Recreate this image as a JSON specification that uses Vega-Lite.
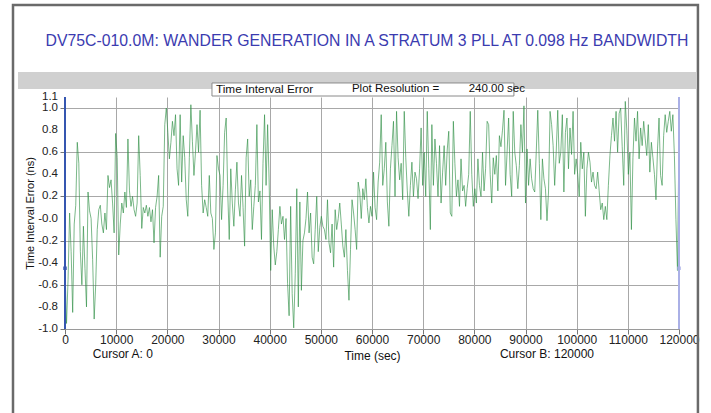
{
  "$schema": "https://vega.github.io/schema/vega-lite/v6.json",
  "width": 614,
  "height": 232,
  "autosize": {"type": "none"},
  "padding": {"left": 65, "top": 97, "right": 32, "bottom": 84},
  "background": "white",
  "title": {
    "text": "DV75C-010.0M:  WANDER GENERATION IN A STRATUM 3 PLL AT 0.098 Hz BANDWIDTH",
    "font": "Liberation Sans",
    "fontSize": 15.8,
    "fontWeight": "normal",
    "color": "#3b3bb0",
    "anchor": "middle",
    "dy": 50,
    "dx": -5
  },
  "config": {
    "view": {"stroke": null},
    "axis": {"labelFont": "Liberation Sans", "titleFont": "Liberation Sans", "labelColor": "#222", "titleColor": "#111", "labelOverlap": false}
  },
  "datasets": {
    "tie": [
      {"t":0,"v":-0.45},{"t":300,"v":-0.95},{"t":600,"v":-0.55},{"t":900,"v":0.05},{"t":1200,"v":-0.3},{"t":1500,"v":-0.85},{"t":1800,"v":-0.05},{"t":2100,"v":0.12},{"t":2400,"v":0.69},{"t":2700,"v":0.5},
      {"t":3000,"v":-0.3},{"t":3300,"v":-0.6},{"t":3600,"v":-0.07},{"t":3900,"v":-0.45},{"t":4200,"v":-0.8},{"t":4500,"v":0.24},{"t":4800,"v":0.07},{"t":5100,"v":0.0},{"t":5400,"v":-0.37},{"t":5700,"v":-0.91},
      {"t":6000,"v":-0.6},{"t":6300,"v":-0.1},{"t":6600,"v":0.08},{"t":6900,"v":0.12},{"t":7200,"v":-0.05},{"t":7500,"v":-0.13},{"t":7800,"v":0.05},{"t":8100,"v":-0.1},{"t":8400,"v":0.39},{"t":8700,"v":0.28},
      {"t":9000,"v":0.35},{"t":9300,"v":0.14},{"t":9600,"v":-0.13},{"t":9900,"v":0.77},{"t":10200,"v":0.55},{"t":10500,"v":-0.33},{"t":10800,"v":-0.05},{"t":11100,"v":0.14},{"t":11400,"v":0.05},{"t":11700,"v":0.24},
      {"t":12000,"v":0.1},{"t":12300,"v":0.72},{"t":12600,"v":0.25},{"t":12900,"v":0.11},{"t":13200,"v":0.2},{"t":13500,"v":0.08},{"t":13800,"v":0.02},{"t":14100,"v":0.14},{"t":14400,"v":0.75},{"t":14700,"v":0.39},
      {"t":15000,"v":-0.09},{"t":15300,"v":0.1},{"t":15600,"v":0.05},{"t":15900,"v":0.12},{"t":16200,"v":0.02},{"t":16500,"v":0.1},{"t":16800,"v":-0.03},{"t":17100,"v":0.08},{"t":17400,"v":-0.22},{"t":17700,"v":0.1},
      {"t":18000,"v":0.2},{"t":18300,"v":0.39},{"t":18600,"v":-0.35},{"t":18900,"v":0.02},{"t":19200,"v":0.11},{"t":19500,"v":0.85},{"t":19800,"v":1.0},
      {"t":20100,"v":0.78},{"t":20400,"v":0.54},{"t":20700,"v":0.69},{"t":21000,"v":0.88},{"t":21300,"v":0.75},{"t":21600,"v":0.94},{"t":21900,"v":0.45},{"t":22200,"v":0.3},{"t":22500,"v":0.94},{"t":22800,"v":0.33},
      {"t":23100,"v":0.75},{"t":23400,"v":0.55},{"t":23700,"v":0.17},{"t":24000,"v":0.02},{"t":24300,"v":0.55},{"t":24600,"v":1.03},{"t":24900,"v":0.7},{"t":25200,"v":0.39},{"t":25500,"v":0.6},{"t":25800,"v":0.85},
      {"t":26100,"v":0.6},{"t":26400,"v":0.98},{"t":26700,"v":0.3},{"t":27000,"v":0.05},{"t":27300,"v":0.17},{"t":27600,"v":0.1},{"t":27900,"v":0.02},{"t":28200,"v":0.39},{"t":28500,"v":0.05},{"t":28800,"v":0.0},
      {"t":29100,"v":-0.28},{"t":29400,"v":-0.13},{"t":29700,"v":0.57},{"t":30000,"v":0.45},{"t":30300,"v":0.39},{"t":30600,"v":-0.01},{"t":30900,"v":0.3},{"t":31200,"v":0.78},{"t":31500,"v":0.91},{"t":31800,"v":0.24},
      {"t":32100,"v":-0.19},{"t":32400,"v":0.45},{"t":32700,"v":0.14},{"t":33000,"v":-0.07},{"t":33300,"v":0.26},{"t":33600,"v":0.51},{"t":33900,"v":0.14},{"t":34200,"v":0.02},{"t":34500,"v":0.39},{"t":34800,"v":0.1},
      {"t":35100,"v":-0.25},{"t":35400,"v":0.55},{"t":35700,"v":0.72},{"t":36000,"v":0.2},{"t":36300,"v":0.35},{"t":36600,"v":-0.1},{"t":36900,"v":0.11},{"t":37200,"v":0.3},{"t":37500,"v":0.85},{"t":37800,"v":0.15},
      {"t":38100,"v":0.25},{"t":38400,"v":-0.19},{"t":38700,"v":0.5},{"t":39000,"v":0.94},{"t":39300,"v":0.3},{"t":39600,"v":0.85},{"t":39900,"v":0.33},
      {"t":40200,"v":-0.47},{"t":40500,"v":0.08},{"t":40800,"v":-0.25},{"t":41100,"v":-0.42},{"t":41400,"v":-0.3},{"t":41700,"v":-0.1},{"t":42000,"v":0.11},{"t":42300,"v":-0.05},{"t":42600,"v":0.02},{"t":42900,"v":-0.19},
      {"t":43200,"v":0.0},{"t":43500,"v":-0.59},{"t":43800,"v":-0.88},{"t":44100,"v":0.11},{"t":44400,"v":-0.68},{"t":44700,"v":-0.99},{"t":45000,"v":-0.5},{"t":45300,"v":0.27},{"t":45600,"v":-0.8},{"t":45900,"v":0.15},
      {"t":46200,"v":-0.65},{"t":46500,"v":-0.2},{"t":46800,"v":-0.13},{"t":47100,"v":0.0},{"t":47400,"v":0.24},{"t":47700,"v":-0.13},{"t":48000,"v":0.05},{"t":48300,"v":-0.35},{"t":48600,"v":-0.41},{"t":48900,"v":-0.1},
      {"t":49200,"v":0.2},{"t":49500,"v":-0.3},{"t":49800,"v":-0.08},{"t":50100,"v":0.02},{"t":50400,"v":-0.07},{"t":50700,"v":-0.1},{"t":51000,"v":-0.19},{"t":51300,"v":0.17},{"t":51600,"v":-0.22},{"t":51900,"v":-0.31},
      {"t":52200,"v":-0.05},{"t":52500,"v":-0.44},{"t":52800,"v":0.08},{"t":53100,"v":-0.1},{"t":53400,"v":0.0},{"t":53700,"v":0.14},{"t":54000,"v":-0.05},{"t":54300,"v":-0.25},{"t":54600,"v":-0.35},{"t":54900,"v":-0.1},
      {"t":55200,"v":-0.47},{"t":55500,"v":-0.74},{"t":55800,"v":-0.28},{"t":56100,"v":0.17},{"t":56400,"v":0.05},{"t":56700,"v":-0.1},{"t":57000,"v":-0.28},{"t":57300,"v":0.33},{"t":57600,"v":0.24},{"t":57900,"v":0.0},
      {"t":58200,"v":0.27},{"t":58500,"v":0.17},{"t":58800,"v":0.36},{"t":59100,"v":0.1},{"t":59400,"v":-0.04},{"t":59700,"v":0.11},
      {"t":60000,"v":0.02},{"t":60300,"v":0.42},{"t":60600,"v":0.1},{"t":60900,"v":-0.01},{"t":61200,"v":0.33},{"t":61500,"v":0.51},{"t":61800,"v":0.94},{"t":62100,"v":0.3},{"t":62400,"v":0.45},{"t":62700,"v":0.69},
      {"t":63000,"v":0.15},{"t":63300,"v":-0.07},{"t":63600,"v":0.45},{"t":63900,"v":0.66},{"t":64200,"v":0.88},{"t":64500,"v":0.2},{"t":64800,"v":0.97},{"t":65100,"v":0.55},{"t":65400,"v":0.35},{"t":65700,"v":0.5},
      {"t":66000,"v":0.17},{"t":66300,"v":0.97},{"t":66600,"v":0.55},{"t":66900,"v":0.25},{"t":67200,"v":0.02},{"t":67500,"v":0.3},{"t":67800,"v":0.51},{"t":68100,"v":0.2},{"t":68400,"v":0.42},{"t":68700,"v":0.36},
      {"t":69000,"v":0.18},{"t":69300,"v":0.45},{"t":69600,"v":0.82},{"t":69900,"v":0.3},{"t":70200,"v":0.6},{"t":70500,"v":0.2},{"t":70800,"v":0.97},{"t":71100,"v":0.45},{"t":71400,"v":-0.1},{"t":71700,"v":0.85},
      {"t":72000,"v":0.3},{"t":72300,"v":0.72},{"t":72600,"v":0.5},{"t":72900,"v":0.2},{"t":73200,"v":0.66},{"t":73500,"v":0.14},{"t":73800,"v":0.42},{"t":74100,"v":0.66},{"t":74400,"v":0.3},{"t":74700,"v":0.62},
      {"t":75000,"v":0.79},{"t":75300,"v":0.05},{"t":75600,"v":0.02},{"t":75900,"v":0.88},{"t":76200,"v":0.5},{"t":76500,"v":0.2},{"t":76800,"v":0.35},{"t":77100,"v":0.11},{"t":77400,"v":0.54},{"t":77700,"v":0.25},
      {"t":78000,"v":0.3},{"t":78300,"v":0.11},{"t":78600,"v":0.27},{"t":78900,"v":0.4},{"t":79200,"v":0.97},{"t":79500,"v":0.4},{"t":79800,"v":0.11},
      {"t":80100,"v":0.27},{"t":80400,"v":0.14},{"t":80700,"v":0.54},{"t":81000,"v":0.3},{"t":81300,"v":0.2},{"t":81600,"v":0.6},{"t":81900,"v":0.25},{"t":82200,"v":0.45},{"t":82500,"v":0.88},{"t":82800,"v":0.85},
      {"t":83100,"v":0.4},{"t":83400,"v":0.14},{"t":83700,"v":0.55},{"t":84000,"v":0.4},{"t":84300,"v":0.57},{"t":84600,"v":0.25},{"t":84900,"v":0.75},{"t":85200,"v":0.65},{"t":85500,"v":0.8},{"t":85800,"v":0.98},
      {"t":86100,"v":0.3},{"t":86400,"v":0.6},{"t":86700,"v":0.91},{"t":87000,"v":0.4},{"t":87300,"v":0.2},{"t":87600,"v":0.97},{"t":87900,"v":0.6},{"t":88200,"v":0.48},{"t":88500,"v":0.27},{"t":88800,"v":0.48},
      {"t":89100,"v":0.85},{"t":89400,"v":0.6},{"t":89700,"v":1.02},{"t":90000,"v":0.14},{"t":90300,"v":0.63},{"t":90600,"v":0.3},{"t":90900,"v":0.54},{"t":91200,"v":0.36},{"t":91500,"v":0.27},{"t":91800,"v":0.24},
      {"t":92100,"v":0.6},{"t":92400,"v":0.98},{"t":92700,"v":0.5},{"t":93000,"v":-0.01},{"t":93300,"v":0.54},{"t":93600,"v":0.36},{"t":93900,"v":0.27},{"t":94200,"v":-0.02},{"t":94500,"v":0.24},{"t":94800,"v":0.97},
      {"t":95100,"v":0.85},{"t":95400,"v":0.66},{"t":95700,"v":0.3},{"t":96000,"v":0.6},{"t":96300,"v":0.98},{"t":96600,"v":0.5},{"t":96900,"v":0.6},{"t":97200,"v":0.94},{"t":97500,"v":0.24},{"t":97800,"v":0.78},
      {"t":98100,"v":0.91},{"t":98400,"v":0.45},{"t":98700,"v":0.82},{"t":99000,"v":0.58},{"t":99300,"v":0.97},{"t":99600,"v":0.4},{"t":99900,"v":0.54},
      {"t":100200,"v":0.4},{"t":100500,"v":0.2},{"t":100800,"v":0.69},{"t":101100,"v":0.45},{"t":101400,"v":0.6},{"t":101700,"v":0.02},{"t":102000,"v":0.45},{"t":102300,"v":0.6},{"t":102600,"v":0.51},{"t":102900,"v":0.33},
      {"t":103200,"v":0.42},{"t":103500,"v":0.3},{"t":103800,"v":0.27},{"t":104100,"v":0.42},{"t":104400,"v":0.25},{"t":104700,"v":0.08},{"t":105000,"v":0.14},{"t":105300,"v":-0.01},{"t":105600,"v":0.11},{"t":105900,"v":-0.01},
      {"t":106200,"v":0.3},{"t":106500,"v":0.57},{"t":106800,"v":0.75},{"t":107100,"v":0.91},{"t":107400,"v":0.7},{"t":107700,"v":0.97},{"t":108000,"v":0.6},{"t":108300,"v":0.95},{"t":108600,"v":1.0},{"t":108900,"v":0.65},
      {"t":109200,"v":0.3},{"t":109500,"v":1.06},{"t":109800,"v":0.8},{"t":110100,"v":0.4},{"t":110400,"v":0.6},{"t":110700,"v":-0.1},{"t":111000,"v":0.55},{"t":111300,"v":0.91},{"t":111600,"v":0.7},{"t":111900,"v":0.97},
      {"t":112200,"v":0.54},{"t":112500,"v":0.82},{"t":112800,"v":0.66},{"t":113100,"v":0.88},{"t":113400,"v":0.72},{"t":113700,"v":0.57},{"t":114000,"v":0.85},{"t":114300,"v":0.42},{"t":114600,"v":0.69},{"t":114900,"v":0.55},
      {"t":115200,"v":0.4},{"t":115500,"v":0.17},{"t":115800,"v":0.63},{"t":116100,"v":0.91},{"t":116400,"v":0.39},{"t":116700,"v":0.3},{"t":117000,"v":0.75},{"t":117300,"v":0.94},{"t":117600,"v":0.78},{"t":117900,"v":0.88},
      {"t":118200,"v":0.97},{"t":118500,"v":0.79},{"t":118800,"v":0.94},{"t":119100,"v":0.57},{"t":119400,"v":-0.01},{"t":119700,"v":-0.47},{"t":120000,"v":0.75}
    ],
    "cursors": [
      {"cursor": "A", "t": 0, "v": -0.45},
      {"cursor": "B", "t": 120000, "v": -0.45}
    ],
    "yticks": [
      {"tick": -1.0, "label": "-1.0"},
      {"tick": -0.8, "label": "-0.8"},
      {"tick": -0.6, "label": "-0.6"},
      {"tick": -0.4, "label": "-0.4"},
      {"tick": -0.2, "label": "-0.2"},
      {"tick": 0.0, "label": "-0.0"},
      {"tick": 0.2, "label": "0.2"},
      {"tick": 0.4, "label": "0.4"},
      {"tick": 0.6, "label": "0.6"},
      {"tick": 0.8, "label": "0.8"},
      {"tick": 1.0, "label": "1.0"},
      {"tick": 1.1, "label": "1.1"}
    ]
  },
  "layer": [
    {
      "data": {"name": "tie"},
      "mark": {"type": "line", "stroke": "#2f8f45", "strokeWidth": 0.8, "opacity": 0.8},
      "encoding": {
        "x": {
          "field": "t", "type": "quantitative",
          "scale": {"domain": [0, 120000], "nice": false, "zero": false},
          "axis": {
            "title": "Time (sec)", "values": [0,10000,20000,30000,40000,50000,60000,70000,80000,90000,100000,110000,120000],
            "format": "d", "labelFontSize": 12, "labelPadding": 0, "tickSize": 5, "tickColor": "#777",
            "domain": true, "domainColor": "#9a9a9a", "grid": true, "gridColor": "#a8a8a8", "gridWidth": 1,
            "titleFontSize": 12, "titleFontWeight": "normal", "titlePadding": 5, "labelFlush": false, "labelOverlap": false
          }
        },
        "y": {
          "field": "v", "type": "quantitative",
          "scale": {"domain": [-1.0, 1.1], "nice": false, "zero": false},
          "axis": {
            "title": "Time Interval Error (ns)", "values": [-1.0,-0.8,-0.6,-0.4,-0.2,0,0.2,0.4,0.6,0.8,1.0,1.1],
            "labels": false, "tickSize": 5, "tickColor": "#777",
            "domain": false, "grid": true, "gridColor": "#a8a8a8", "gridWidth": 1,
            "titleFontSize": 11, "titleFontWeight": "normal", "titlePadding": 24
          }
        }
      }
    },
    {
      "data": {"name": "yticks"},
      "mark": {"type": "text", "align": "right", "baseline": "middle", "font": "Liberation Sans", "fontSize": 11.5, "color": "#222", "clip": false},
      "encoding": {
        "x": {"datum": -1370, "type": "quantitative"},
        "y": {"field": "tick", "type": "quantitative"},
        "text": {"field": "label", "type": "nominal"}
      }
    },
    {
      "data": {"values": [{}]},
      "mark": {"type": "rect", "fill": "transparent", "stroke": "#6a6a6a", "strokeWidth": 2.5, "clip": false},
      "encoding": {
        "x": {"datum": -10163, "type": "quantitative"},
        "x2": {"datum": 123700},
        "y": {"datum": 1.933, "type": "quantitative"},
        "y2": {"datum": -1.9}
      }
    },
    {
      "data": {"values": [{}]},
      "mark": {"type": "rect", "fill": "#d0d0d0", "clip": false},
      "encoding": {
        "x": {"datum": -9184, "type": "quantitative"},
        "x2": {"datum": 123493},
        "y": {"datum": 1.326, "type": "quantitative"},
        "y2": {"datum": 1.172}
      }
    },
    {
      "data": {"values": [{}]},
      "mark": {"type": "rect", "fill": "white", "stroke": "#8a8a8a", "strokeWidth": 1, "clip": false},
      "encoding": {
        "x": {"datum": 28724, "type": "quantitative"},
        "x2": {"datum": 87735},
        "y": {"datum": 1.227, "type": "quantitative"},
        "y2": {"datum": 1.109}
      }
    },
    {
      "data": {"values": [{}]},
      "mark": {"type": "text", "text": "Time Interval Error", "align": "left", "baseline": "middle", "font": "Liberation Sans", "fontSize": 11.8, "color": "#111", "clip": false},
      "encoding": {
        "x": {"datum": 29500, "type": "quantitative"},
        "y": {"datum": 1.168, "type": "quantitative"}
      }
    },
    {
      "data": {"values": [{}]},
      "mark": {"type": "text", "text": "Plot Resolution =", "align": "left", "baseline": "middle", "font": "Liberation Sans", "fontSize": 11.5, "color": "#111", "clip": false},
      "encoding": {
        "x": {"datum": 56080, "type": "quantitative"},
        "y": {"datum": 1.168, "type": "quantitative"}
      }
    },
    {
      "data": {"values": [{}]},
      "mark": {"type": "text", "text": "240.00 sec", "align": "left", "baseline": "middle", "font": "Liberation Sans", "fontSize": 11.5, "color": "#111", "clip": false},
      "encoding": {
        "x": {"datum": 78900, "type": "quantitative"},
        "y": {"datum": 1.168, "type": "quantitative"}
      }
    },
    {
      "data": {"name": "cursors"},
      "mark": {"type": "rule", "strokeWidth": 2},
      "encoding": {
        "x": {"field": "t", "type": "quantitative"},
        "color": {"field": "cursor", "type": "nominal", "scale": {"domain": ["A", "B"], "range": ["#3556b0", "#aab0e6"]}, "legend": null}
      }
    },
    {
      "data": {"name": "cursors"},
      "mark": {"type": "square", "size": 12, "opacity": 1, "clip": false},
      "encoding": {
        "x": {"field": "t", "type": "quantitative"},
        "y": {"field": "v", "type": "quantitative"},
        "color": {"field": "cursor", "type": "nominal", "scale": {"domain": ["A", "B"], "range": ["#3556b0", "#6f7fd0"]}, "legend": null}
      }
    },
    {
      "data": {"values": [{}]},
      "mark": {"type": "text", "text": "Cursor A: 0", "align": "center", "baseline": "middle", "font": "Liberation Sans", "fontSize": 12, "color": "#111", "clip": false},
      "encoding": {
        "x": {"datum": 11300, "type": "quantitative"},
        "y": {"datum": -1.225, "type": "quantitative"}
      }
    },
    {
      "data": {"values": [{}]},
      "mark": {"type": "text", "text": "Cursor B: 120000", "align": "center", "baseline": "middle", "font": "Liberation Sans", "fontSize": 12, "color": "#111", "clip": false},
      "encoding": {
        "x": {"datum": 94200, "type": "quantitative"},
        "y": {"datum": -1.225, "type": "quantitative"}
      }
    }
  ]
}
